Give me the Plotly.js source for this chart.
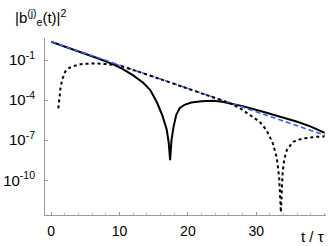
<!DOCTYPE html>
<html><head><meta charset="utf-8">
<script src="https://cdn.plot.ly/plotly-3.0.1.min.js"></script>
<style>body{margin:0;padding:0;background:#fff}#g{width:332px;height:246px}</style>
</head><body><div id="g"></div>
<script>
// log10 values
const tSolid = [0, 4, 7, 9, 10.5, 12, 13.5, 14.5, 15.5, 16.3, 16.9, 17.2, 17.4, 17.6, 17.9, 18.3, 18.8, 19.5, 20.5, 22, 23.7, 25, 26.1, 28, 31, 33.5, 36, 38, 40];
const logSolid = [0.37, -0.33, -0.9, -1.3, -1.68, -2.15, -2.72, -3.25, -4.2, -5.2, -6.2, -7.2, -8.5, -7.0, -6.0, -5.1, -4.6, -4.35, -4.18, -4.08, -4.05, -4.12, -4.22, -4.45, -4.87, -5.22, -5.62, -5.98, -6.45];

const tDot = [1.05, 1.2, 1.4, 1.7, 2.05, 2.6, 3.5, 4.5, 6.4, 8, 9, 10, 14, 18, 22, 26, 27.6, 29, 30.5, 31.5, 32.4, 33.0, 33.35, 33.6, 33.85, 34.1, 34.5, 35.4, 36.8, 38.8, 40];
const logDot = [-4.62, -3.7, -2.95, -2.35, -1.87, -1.6, -1.42, -1.3, -1.25, -1.3, -1.35, -1.42, -2.08, -2.78, -3.48, -4.2, -4.6, -5.1, -5.62, -6.25, -7.2, -8.3, -9.8, -12.4, -9.5, -8.4, -7.7, -7.12, -6.87, -6.75, -6.72];

const tBlue = [0, 10, 20, 30, 40];
const logBlue = [0.37, -1.38, -3.12, -4.87, -6.62];

const yTickVals = [-1, -4, -7, -10];
const xTickVals = [0, 10, 20, 30];

const p = a => a.map(v => Math.pow(10, v));

const traces = [
  {x: tSolid, y: p(logSolid), mode: 'lines', line: {color: '#000', width: 2}},
  {x: tBlue, y: p(logBlue), mode: 'lines', line: {color: '#3a5ef0', width: 1.6, dash: '5px,3px'}},
  {x: tDot, y: p(logDot), mode: 'lines', line: {color: '#000', width: 2, dash: 'dot'}}
];

const layout = {
  width: 332, height: 246,
  margin: {l: 45, r: 6, t: 38, b: 31},
  showlegend: false,
  paper_bgcolor: '#fff', plot_bgcolor: '#fff',
  font: {family: 'Liberation Sans, Arial, sans-serif', size: 14, color: '#000'},
  xaxis: {
    range: [-0.9, 40.2], showgrid: false, zeroline: false,
    showline: true, linecolor: '#999', linewidth: 1,
    tickvals: xTickVals, ticks: 'inside', ticklen: 3, tickcolor: '#999',
    minor: {dtick: 2, ticks: 'inside', ticklen: 2, tickcolor: '#bbb'},
    ticklabelstandoff: 3, tickfont: {size: 14}
  },
  yaxis: {
    type: 'log', range: [-12.6, 0.65], showgrid: false, zeroline: false,
    showline: true, linecolor: '#999', linewidth: 1,
    tickvals: yTickVals.map(v => Math.pow(10, v)),
    ticktext: yTickVals.map(v => '10<sup>' + v + '</sup>'),
    ticks: 'inside', ticklen: 3, tickcolor: '#999',
    ticklabelstandoff: 6, tickfont: {size: 15}
  },
  annotations: [
    {text: '|b<sup>(j)</sup><sub>e</sub>(t)|<sup>2</sup>', xref: 'paper', yref: 'paper',
     x: -0.115, y: 1.115, xanchor: 'left', yanchor: 'middle', showarrow: false, font: {size: 15}},
    {text: 't / τ', xref: 'paper', yref: 'paper', x: 1.0, y: -0.06, xanchor: 'right', yanchor: 'top',
     showarrow: false, font: {size: 15}}
  ]
};
Plotly.newPlot('g', traces, layout, {displayModeBar: false, staticPlot: true});
</script></body></html>
